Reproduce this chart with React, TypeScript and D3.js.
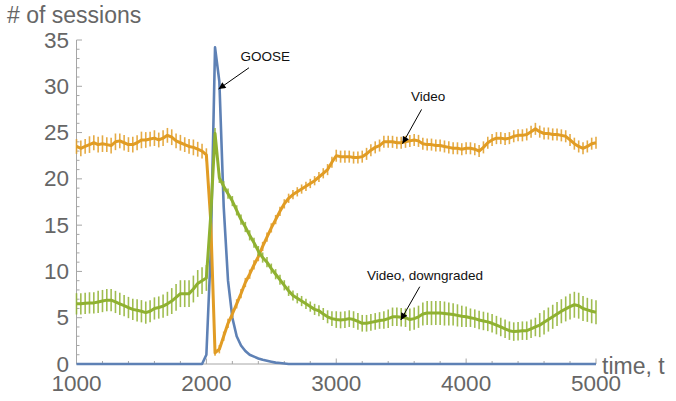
import React, { Component } from 'react';
import * as d3 from 'd3';

// sample times, one every 33 1/3 time units from 1000 to 5000
const times = d3.range(121).map(i => 1000 + (i * 100) / 3);

// GOOSE sessions (no error bars)
const goose = [
  0, 0, 0, 0, 0, 0, 0, 0, 0, 0,
  0, 0, 0, 0, 0, 0, 0, 0, 0, 0,
  0, 0, 0, 0, 0, 0, 0, 0, 0, 0,
  1.0, 12, 34.2, 30.5, 17, 9.0, 5.0, 3.0, 2.0, 1.4,
  1.0, 0.8, 0.6, 0.45, 0.35, 0.25, 0.15, 0.1, 0.05, 0,
  0, 0, 0, 0, 0, 0, 0, 0, 0, 0,
  0, 0, 0, 0, 0, 0, 0, 0, 0, 0,
  0, 0, 0, 0, 0, 0, 0, 0, 0, 0,
  0, 0, 0, 0, 0, 0, 0, 0, 0, 0,
  0, 0, 0, 0, 0, 0, 0, 0, 0, 0,
  0, 0, 0, 0, 0, 0, 0, 0, 0, 0,
  0, 0, 0, 0, 0, 0, 0, 0, 0, 0,
  0
];

// Video sessions
const video = [
  23.5, 23.3, 23.5, 23.7, 23.9, 23.7, 23.8, 23.7, 23.6, 24.0,
  24.1, 23.9, 23.7, 23.7, 23.9, 24.2, 24.2, 24.3, 24.4, 24.2,
  24.4, 24.7, 24.5, 24.1, 23.9, 23.7, 23.5, 23.4, 23.2, 23.0,
  22.6, 15.5, 1.2, 1.6, 3.0, 4.4, 5.4, 6.5, 7.6, 8.8,
  9.7, 10.7, 11.6, 12.7, 13.7, 14.7, 15.6, 16.5, 17.3, 17.9,
  18.3, 18.6, 18.9, 19.2, 19.5, 19.8, 20.2, 20.6, 21.0, 21.8,
  22.5, 22.4, 22.4, 22.4, 22.3, 22.3, 22.4, 22.7, 23.1, 23.4,
  23.6, 24.0, 24.0, 24.0, 23.9, 23.9, 24.0, 24.1, 24.2, 24.1,
  23.8, 23.7, 23.7, 23.6, 23.6, 23.5, 23.4, 23.3, 23.3, 23.2,
  23.3, 23.3, 23.2, 23.0, 23.4, 23.9, 24.2, 24.4, 24.4, 24.3,
  24.4, 24.6, 24.7, 24.7, 24.8, 25.1, 25.4, 25.1, 24.9, 24.9,
  24.8, 24.8, 24.7, 24.6, 24.2, 23.8, 23.5, 23.3, 23.5, 23.8,
  23.9
];
const videoErr = [
  0.8, 0.85, 0.8, 0.9, 0.8, 0.85, 0.9, 0.8, 0.85, 0.9,
  0.8, 0.85, 0.8, 0.85, 0.8, 0.9, 0.85, 0.8, 0.85, 0.8,
  0.85, 0.8, 0.85, 0.8, 0.85, 0.8, 0.8, 0.85, 0.8, 0.8,
  0.7, 0.4, 0.3, 0.45, 0.5, 0.5, 0.5, 0.5, 0.5, 0.5,
  0.5, 0.5, 0.5, 0.5, 0.5, 0.5, 0.5, 0.5, 0.5, 0.5,
  0.5, 0.5, 0.5, 0.5, 0.5, 0.5, 0.55, 0.55, 0.6, 0.6,
  0.65, 0.65, 0.65, 0.65, 0.65, 0.65, 0.65, 0.65, 0.65, 0.65,
  0.65, 0.65, 0.65, 0.65, 0.65, 0.65, 0.65, 0.65, 0.65, 0.65,
  0.65, 0.65, 0.65, 0.65, 0.65, 0.65, 0.65, 0.65, 0.65, 0.65,
  0.65, 0.65, 0.65, 0.65, 0.65, 0.65, 0.65, 0.65, 0.65, 0.65,
  0.65, 0.65, 0.65, 0.65, 0.65, 0.65, 0.65, 0.65, 0.65, 0.65,
  0.65, 0.65, 0.65, 0.65, 0.65, 0.65, 0.65, 0.65, 0.65, 0.65,
  0.65
];

// Video, downgraded sessions
const downgraded = [
  6.5, 6.5, 6.55, 6.6, 6.6, 6.7, 6.8, 6.9, 6.9, 6.7,
  6.5, 6.3, 6.1, 5.9, 5.8, 5.7, 5.55, 5.7, 6.0, 6.1,
  6.25, 6.5, 6.8, 7.2, 7.6, 7.6, 7.6, 8.1, 8.7, 9.0,
  9.3, 16.0, 24.9, 20.1, 19.2, 18.4, 17.6, 16.6, 15.6, 14.8,
  13.9, 13.1, 12.2, 11.5, 11.0, 10.3, 9.7, 9.1, 8.5, 7.9,
  7.4, 7.1, 6.8, 6.5, 6.2, 5.9, 5.75, 5.4, 5.1, 4.9,
  4.8, 4.75, 4.8, 4.9, 4.8, 4.6, 4.4, 4.4, 4.5, 4.6,
  4.7, 4.75, 4.9, 5.1, 5.1, 5.05, 5.0, 4.8, 4.9, 5.1,
  5.4, 5.5, 5.5, 5.5, 5.5, 5.45, 5.4, 5.35, 5.25, 5.15,
  5.1, 5.0, 4.9, 4.75, 4.65, 4.55, 4.4, 4.2, 4.0, 3.8,
  3.6, 3.5, 3.55, 3.6, 3.6, 3.8, 4.0, 4.2, 4.5, 4.8,
  5.1, 5.4, 5.7, 5.95, 6.2, 6.4, 6.3, 6.0, 5.85, 5.7,
  5.6
];
const downgradedErr = [
  1.15, 1.15, 1.15, 1.15, 1.15, 1.2, 1.2, 1.2, 1.2, 1.2,
  1.2, 1.15, 1.15, 1.15, 1.2, 1.2, 1.2, 1.2, 1.2, 1.2,
  1.25, 1.3, 1.4, 1.45, 1.45, 1.45, 1.45, 1.45, 1.45, 1.45,
  1.4, 0.8, 0.6, 0.55, 0.55, 0.55, 0.55, 0.55, 0.55, 0.55,
  0.55, 0.55, 0.55, 0.55, 0.55, 0.55, 0.55, 0.55, 0.55, 0.55,
  0.55, 0.55, 0.55, 0.55, 0.55, 0.6, 0.6, 0.65, 0.7, 0.8,
  0.9, 0.9, 0.9, 0.9, 0.9, 0.9, 0.9, 0.9, 0.9, 0.9,
  0.9, 0.95, 1.0, 1.0, 1.0, 1.0, 1.0, 1.2, 1.2, 1.2,
  1.25, 1.3, 1.3, 1.3, 1.3, 1.3, 1.25, 1.2, 1.2, 1.15,
  1.1, 1.0, 1.0, 1.0, 1.0, 1.0, 1.0, 1.0, 1.0, 1.0,
  1.0, 1.0, 1.0, 1.0, 1.0, 1.0, 1.0, 1.3, 1.3, 1.3,
  1.3, 1.3, 1.3, 1.35, 1.4, 1.4, 1.4, 1.35, 1.3, 1.3,
  1.3
];

const xTicks = [1000, 2000, 3000, 4000, 5000];
const yTicks = [0, 5, 10, 15, 20, 25, 30, 35];

const FONT = '"Liberation Sans", Arial, Helvetica, sans-serif';

class App extends Component {
  componentDidMount() {
    const svg = d3.select('.chart_svg');
    const g = svg.select('.g_chart');
    g.selectAll('*').remove();

    const x = d3.scaleLinear().domain([1000, 5000]).range([76.5, 596]);
    const y = d3.scaleLinear().domain([0, 35]).range([364, 40]);

    // arrow head marker
    svg.select('defs').remove();
    svg.append('defs').append('marker')
      .attr('id', 'arrowhead')
      .attr('viewBox', '0 0 10 10')
      .attr('refX', 10).attr('refY', 5)
      .attr('markerWidth', 8).attr('markerHeight', 7)
      .attr('markerUnits', 'userSpaceOnUse')
      .attr('orient', 'auto')
      .append('path').attr('d', 'M0,0 L10,5 L0,10 z').attr('fill', '#000');

    // axes: lines, minor + major ticks (drawn inward like Mathematica)
    const axisColor = '#a6a6a6';
    g.append('line')
      .attr('x1', x(1000)).attr('x2', x(5000))
      .attr('y1', y(0)).attr('y2', y(0))
      .attr('stroke', axisColor).attr('stroke-width', 1);
    g.append('line')
      .attr('x1', x(1000)).attr('x2', x(1000))
      .attr('y1', y(0)).attr('y2', y(35))
      .attr('stroke', axisColor).attr('stroke-width', 1);

    const yMinor = d3.range(0, 36, 1);
    g.selectAll('.y_tick').data(yMinor).join('line').attr('class', 'y_tick')
      .attr('x1', x(1000))
      .attr('x2', d => x(1000) + (d % 5 === 0 ? 5.5 : 3))
      .attr('y1', d => y(d)).attr('y2', d => y(d))
      .attr('stroke', axisColor).attr('stroke-width', 1);

    const xMinor = d3.range(1000, 5001, 200);
    g.selectAll('.x_tick').data(xMinor).join('line').attr('class', 'x_tick')
      .attr('x1', d => x(d)).attr('x2', d => x(d))
      .attr('y1', y(0))
      .attr('y2', d => y(0) - (d % 1000 === 0 ? 5.5 : 3))
      .attr('stroke', axisColor).attr('stroke-width', 1);

    // tick labels
    g.selectAll('.y_label').data(yTicks).join('text').attr('class', 'y_label')
      .attr('x', 69).attr('y', d => y(d) + 7.5)
      .attr('text-anchor', 'end')
      .attr('font-family', FONT).attr('font-size', 22.5).attr('fill', '#666')
      .text(d => d);
    g.selectAll('.x_label').data(xTicks).join('text').attr('class', 'x_label')
      .attr('x', d => x(d)).attr('y', 391)
      .attr('text-anchor', 'middle')
      .attr('font-family', FONT).attr('font-size', 22.5).attr('fill', '#666')
      .text(d => d);

    // axis names
    g.append('text')
      .attr('x', 7).attr('y', 23)
      .attr('font-family', FONT).attr('font-size', 23).attr('fill', '#666')
      .text('# of sessions');
    g.append('text')
      .attr('x', 602).attr('y', 374)
      .attr('font-family', FONT).attr('font-size', 23).attr('fill', '#666')
      .text('time, t');

    const line = d3.line<number>()
      .x((d, i) => x(times[i]))
      .y(d => y(d));

    const series = [
      { vals: goose, err: null, color: '#5E81B5', width: 2.6 },
      { vals: video, err: videoErr, color: '#E19C24', width: 3 },
      { vals: downgraded, err: downgradedErr, color: '#8FB131', width: 3 }
    ];

    series.forEach((s, k) => {
      const sg = g.append('g').attr('class', 'series_' + k);
      if (s.err) {
        sg.selectAll('.err').data(s.vals).join('line').attr('class', 'err')
          .attr('x1', (d, i) => x(times[i])).attr('x2', (d, i) => x(times[i]))
          .attr('y1', (d, i) => y(d - s.err[i]))
          .attr('y2', (d, i) => y(d + s.err[i]))
          .attr('stroke', s.color).attr('stroke-opacity', 0.85)
          .attr('stroke-width', 1.6);
      }
      sg.append('path')
        .datum(s.vals)
        .attr('d', line)
        .attr('fill', 'none')
        .attr('stroke', s.color)
        .attr('stroke-width', s.width)
        .attr('stroke-linejoin', 'round');
    });

    // callout labels with arrows
    const notes = [
      { text: 'GOOSE', tx: 2454, ty: 33.3, from: [2328, 32.0], to: [2094, 29.7] },
      { text: 'Video', tx: 3707, ty: 28.9, from: [3657, 27.5], to: [3510, 23.8] },
      { text: 'Video, downgraded', tx: 3684, ty: 9.6, from: [3643, 8.35], to: [3497, 4.75] }
    ];
    notes.forEach(n => {
      g.append('text')
        .attr('x', x(n.tx)).attr('y', y(n.ty) + 5)
        .attr('text-anchor', 'middle')
        .attr('font-family', FONT).attr('font-size', 13.5).attr('fill', '#111')
        .text(n.text);
      g.append('line')
        .attr('x1', x(n.from[0])).attr('y1', y(n.from[1]))
        .attr('x2', x(n.to[0])).attr('y2', y(n.to[1]))
        .attr('stroke', '#000').attr('stroke-width', 1)
        .attr('marker-end', 'url(#arrowhead)');
    });
  }

  render() {
    return (
      <svg className='chart_svg' width={676} height={401}
        style={{ position: 'absolute', left: 0, top: 0, background: '#fff' }}>
        <g className='g_chart'></g>
      </svg>
    );
  }
}

export default App;
